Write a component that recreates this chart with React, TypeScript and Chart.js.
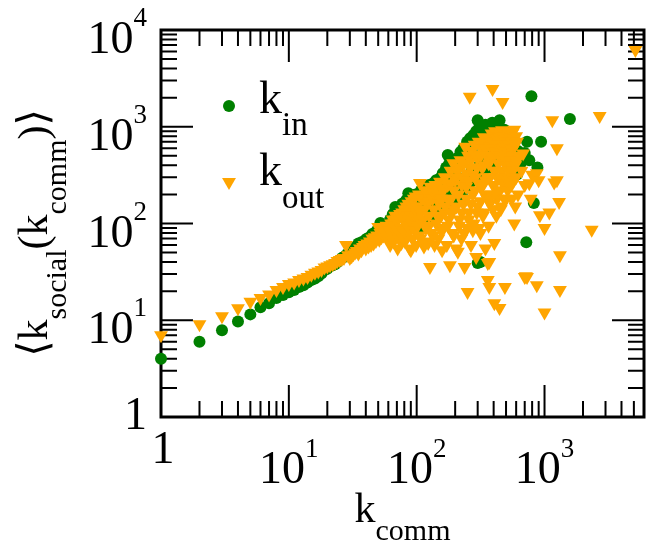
import React, { useEffect, useRef } from 'react';
import { Chart, registerables } from 'chart.js';

Chart.register(...registerables);

const X_MIN = 1;
const X_MAX = 6000;
const Y_MIN = 1;
const Y_MAX = 10000;

const xMajorTicks = [1, 10, 100, 1000];
const xTickLabels: [string, string][] = [['1', ''], ['10', '1'], ['10', '2'], ['10', '3']];
const yMajorTicks = [1, 10, 100, 1000, 10000];
const yTickLabels: [string, string][] = [['1', ''], ['10', '1'], ['10', '2'], ['10', '3'], ['10', '4']];

// k_in series: [k_comm, <k_social>]
const kInData: [number, number][] = [
  [1, 4.0], [2, 6.0], [3, 7.9], [4, 9.7], [5, 11.5], [6, 13.6], [7, 15.0], [8, 17.0], [9, 18.2], [10, 19.5],
  [11, 20.5], [12, 22], [13, 23], [14, 24.5], [15, 26], [16, 27], [17, 28.5], [18, 30.5], [19, 33], [20, 34],
  [21, 36], [22, 37], [23, 38], [24, 40], [25, 42], [26, 44], [27, 45], [28, 47], [29, 49], [30, 50],
  [31, 53], [32, 52], [33, 56], [34, 58], [35, 62], [36, 60], [37, 64], [38, 63], [39, 66], [40, 68],
  [41, 70], [42, 67], [43, 72], [44, 66], [45, 78], [46, 72], [47, 80], [48, 75], [49, 85], [50, 78],
  [52, 101], [53, 82], [55, 88], [56, 95], [58, 90], [60, 97], [62, 110], [64, 100], [65, 125], [67, 108],
  [68, 148], [70, 120], [72, 138], [75, 130], [77, 160], [80, 145], [81, 166], [83, 175], [85, 150], [86, 206],
  [88, 170], [90, 160], [92, 190], [95, 175], [98, 200], [100, 185], [104, 165], [108, 220], [112, 200], [116, 232],
  [120, 190], [125, 250], [130, 210], [135, 260], [142, 280], [146, 281], [150, 240], [155, 300], [160, 330], [165, 280],
  [170, 380], [175, 510], [180, 420], [186, 350], [191, 382], [196, 450], [200, 330], [205, 470], [212, 400], [220, 547],
  [226, 480], [232, 600], [240, 520], [248, 700], [255, 620], [262, 760], [270, 560], [278, 820], [285, 700], [292, 900],
  [300, 1170], [300, 880], [310, 1000], [318, 750], [325, 950], [335, 850], [345, 1050], [355, 900], [365, 780], [378, 990],
  [390, 1100], [400, 850], [410, 950], [420, 700], [430, 800], [445, 1170], [460, 900], [470, 750], [485, 930], [500, 850],
  [520, 700], [540, 780], [560, 650], [580, 600], [610, 320], [620, 560], [650, 420], [680, 480], [700, 535], [720, 64],
  [730, 700], [760, 450], [790, 2070], [825, 163], [880, 380], [940, 700], [1580, 1200], [300, 39], [315, 40],
  [65, 70], [75, 85], [90, 100], [100, 120], [110, 90], [120, 140], [130, 110], [140, 160], [150, 130], [160, 180],
  [170, 150], [185, 220], [195, 170], [210, 260], [225, 200], [240, 300], [255, 240], [270, 350], [290, 280], [310, 400],
  [330, 320], [350, 480], [370, 380], [390, 550], [410, 420], [430, 600], [450, 500], [470, 650], [490, 560], [520, 600],
  [550, 500],
];

// k_out series: [k_comm, <k_social>]
const kOutData: [number, number][] = [
  [1, 7.0], [2, 9.1], [3, 11.0], [4, 13.3], [5, 15.5], [6, 17.0], [7, 18.5], [8, 20.5], [9, 22.0], [10, 23.7],
  [11, 24.5], [12, 26], [13, 27], [14, 28], [15, 29.5], [16, 31], [17, 32], [18, 33], [19, 35], [20, 36],
  [21, 37], [22, 38], [23, 39], [24, 41], [25, 42], [26, 43], [27, 44], [28, 60], [29, 47], [30, 44],
  [31, 46], [32, 48], [33, 50], [34, 52], [35, 49], [36, 55], [37, 53], [38, 57], [39, 60], [40, 55],
  [41, 62], [42, 58], [43, 65], [44, 60], [45, 70], [46, 62], [47, 72], [48, 66], [49, 75], [50, 92],
  [51, 68], [52, 80], [53, 72], [54, 85], [55, 75], [56, 88], [57, 78], [58, 95], [59, 70], [60, 90],
  [61, 85], [62, 60], [63, 100], [63, 70], [64, 75], [65, 110], [66, 65], [66, 100], [67, 95], [68, 120],
  [69, 80], [69, 110], [70, 105], [71, 55], [72, 115], [72, 80], [73, 70], [74, 125], [75, 90], [75, 120],
  [76, 63], [77, 130], [78, 85], [78, 70], [79, 110], [80, 140], [81, 65], [81, 125], [82, 100], [83, 150],
  [84, 75], [84, 95], [85, 120], [86, 160], [87, 90], [87, 140], [88, 55], [89, 130], [90, 53], [90, 120],
  [91, 170], [92, 100], [93, 70], [93, 150], [94, 145], [95, 180], [96, 85], [96, 110], [97, 120], [98, 190],
  [99, 60], [99, 135], [100, 150], [102, 95], [104, 200], [105, 75], [105, 110], [106, 262], [107, 70], [108, 130],
  [110, 180], [112, 110], [114, 58], [115, 140], [115, 65], [116, 220], [118, 90], [120, 160], [122, 200], [123, 63],
  [125, 120], [125, 170], [125, 95], [127, 35.5], [128, 240], [130, 80], [133, 180], [135, 210], [135, 75], [136, 140],
  [138, 60], [140, 250], [142, 100], [145, 200], [145, 120], [148, 70], [150, 160], [152, 270], [155, 120], [155, 180],
  [155, 85], [158, 53], [160, 220], [163, 90], [165, 130], [165, 230], [166, 300], [168, 150], [172, 60], [175, 250],
  [175, 95], [175, 180], [178, 110], [182, 37], [184, 350], [185, 260], [185, 130], [186, 180], [190, 80], [193, 420],
  [195, 75], [195, 220], [196, 140], [200, 280], [204, 55], [205, 300], [205, 150], [208, 350], [210, 51], [212, 200],
  [215, 95], [215, 380], [216, 110], [220, 450], [224, 70], [225, 250], [225, 130], [228, 300], [232, 160], [235, 420],
  [235, 80], [237, 35.5], [240, 620], [244, 240], [245, 180], [245, 330], [248, 90], [250, 19.6], [252, 500], [255, 280],
  [255, 110], [256, 130], [260, 2040], [262, 380], [265, 450], [265, 160], [266, 60], [270, 560], [275, 200], [275, 85],
  [275, 320], [280, 100], [284, 650], [285, 220], [285, 520], [288, 300], [292, 45], [295, 130], [295, 380], [296, 480],
  [300, 150], [305, 700], [305, 90], [305, 260], [310, 250], [315, 80], [315, 500], [315, 170], [320, 600], [325, 380],
  [325, 240], [325, 680], [330, 120], [335, 780], [335, 130], [335, 400], [340, 200], [345, 55], [345, 600], [345, 280],
  [350, 500], [355, 300], [355, 180], [355, 720], [360, 26], [360, 39], [365, 750], [365, 95], [365, 420], [370, 40],
  [370, 22], [375, 160], [375, 300], [375, 620], [380, 450], [385, 850], [385, 200], [385, 500], [392, 2450], [395, 250],
  [395, 700], [395, 140], [400, 600], [405, 63], [405, 15], [405, 350], [405, 250], [410, 900], [415, 350], [415, 800],
  [415, 550], [420, 120], [425, 750], [425, 300], [425, 180], [430, 200], [435, 650], [435, 420], [440, 500], [445, 13.4],
  [445, 220], [445, 780], [450, 860], [455, 300], [455, 500], [455, 140], [460, 150], [465, 920], [465, 350], [465, 600],
  [470, 1800], [475, 650], [475, 260], [475, 800], [480, 250], [485, 480], [485, 180], [490, 22], [490, 800], [495, 400],
  [495, 650], [495, 300], [500, 180], [505, 900], [505, 400], [510, 700], [515, 220], [515, 550], [520, 300], [525, 650],
  [525, 350], [530, 850], [535, 250], [535, 780], [540, 450], [545, 400], [545, 600], [550, 250], [555, 180], [555, 700],
  [560, 860], [565, 350], [565, 500], [570, 600], [575, 750], [575, 280], [580, 100], [580, 930], [590, 400], [590, 650],
  [590, 150], [600, 300], [600, 450], [600, 800], [610, 700], [620, 200], [640, 500], [660, 350], [680, 530], [700, 28],
  [700, 250], [715, 28.5], [730, 28], [760, 260], [780, 180], [800, 320], [870, 23], [870, 330], [900, 280], [920, 122],
  [1000, 90], [1000, 12], [1090, 130], [1150, 1170], [1190, 265], [1250, 600], [1250, 280], [1300, 167], [1320, 47], [1320, 20.5],
  [2340, 86], [2700, 1290], [5140, 6200],
];

const GREEN = '#008000';
const ORANGE = '#FFA500';
const SERIF = '"Liberation Serif", "DejaVu Serif", "Times New Roman", Times, serif';

function drawTriangleDown(ctx: CanvasRenderingContext2D, x: number, y: number, r: number) {
  ctx.beginPath();
  ctx.moveTo(x, y + r);
  ctx.lineTo(x - r * Math.sin(Math.PI / 3), y - r / 2);
  ctx.lineTo(x + r * Math.sin(Math.PI / 3), y - r / 2);
  ctx.closePath();
  ctx.fill();
}

const framePlugin = {
  id: 'frame',
  beforeDatasetsDraw(chart: any) {
    const { ctx, chartArea: a, scales } = chart;
    const xs = scales.x;
    const ys = scales.y;
    ctx.save();
    ctx.strokeStyle = '#000';
    ctx.lineWidth = 2;
    ctx.beginPath();
    for (let d = 1; d <= X_MAX; d *= 10) {
      for (let m = 1; m <= 9; m++) {
        const v = m * d;
        if (v < X_MIN || v > X_MAX) continue;
        const px = xs.getPixelForValue(v);
        const len = m === 1 ? 32 : 16;
        ctx.moveTo(px, a.bottom);
        ctx.lineTo(px, a.bottom - len);
        ctx.moveTo(px, a.top);
        ctx.lineTo(px, a.top + len);
      }
    }
    for (let d = 1; d <= Y_MAX; d *= 10) {
      for (let m = 1; m <= 9; m++) {
        const v = m * d;
        if (v < Y_MIN || v > Y_MAX) continue;
        const py = ys.getPixelForValue(v);
        const len = m === 1 ? 32 : 16;
        ctx.moveTo(a.left, py);
        ctx.lineTo(a.left + len, py);
        ctx.moveTo(a.right, py);
        ctx.lineTo(a.right - len, py);
      }
    }
    ctx.stroke();
    ctx.lineWidth = 3;
    ctx.strokeRect(a.left, a.top, a.right - a.left, a.bottom - a.top);
    ctx.restore();
  },
  afterDraw(chart: any) {
    const { ctx, chartArea: a, scales } = chart;
    const xs = scales.x;
    const ys = scales.y;
    const mainFont = `46px ${SERIF}`;
    const supFont = `27px ${SERIF}`;
    ctx.save();
    ctx.fillStyle = '#000';
    ctx.textBaseline = 'alphabetic';
    ctx.textAlign = 'left';

    // x tick labels
    xMajorTicks.forEach((v, i) => {
      const [main, sup] = xTickLabels[i];
      const px = xs.getPixelForValue(v);
      ctx.font = mainFont;
      const wm = ctx.measureText(main).width;
      ctx.font = supFont;
      const ws = sup ? ctx.measureText(sup).width : 0;
      const start = px - (wm + ws) / 2 + (sup ? 0 : 2);
      ctx.font = mainFont;
      ctx.fillText(main, start, sup ? a.bottom + 66 : a.bottom + 46);
      if (sup) {
        ctx.font = supFont;
        ctx.fillText(sup, start + wm, a.bottom + 40);
      }
    });

    // y tick labels
    const yRight = a.left - 14;
    yMajorTicks.forEach((v, i) => {
      const [main, sup] = yTickLabels[i];
      const py = ys.getPixelForValue(v);
      ctx.font = supFont;
      const ws = sup ? ctx.measureText(sup).width : 0;
      ctx.font = mainFont;
      const wm = ctx.measureText(main).width;
      if (sup) {
        ctx.fillText(main, yRight - ws - wm, py + 23);
        ctx.font = supFont;
        ctx.fillText(sup, yRight - ws, py - 4);
      } else {
        ctx.fillText(main, yRight - wm, py + 12);
      }
    });

    // x title: k_comm
    const tMain = `42px ${SERIF}`;
    const tSub = `30px ${SERIF}`;
    ctx.font = tMain;
    const wk = ctx.measureText('k').width;
    ctx.font = tSub;
    const wc = ctx.measureText('comm').width;
    const cx = (a.left + a.right) / 2;
    const sx = cx - (wk + wc) / 2;
    ctx.font = tMain;
    ctx.fillText('k', sx, 522);
    ctx.font = tSub;
    ctx.fillText('comm', sx + wk, 540);

    // y title: <k_social(k_comm)>
    const parts: [string, boolean][] = [
      ['\u27E8k', false], ['social', true], ['(k', false], ['comm', true], [')\u27E9', false],
    ];
    let total = 0;
    const widths = parts.map(([t, s]) => {
      ctx.font = s ? tSub : tMain;
      const w = ctx.measureText(t).width;
      total += w;
      return w;
    });
    ctx.save();
    ctx.translate(47, 233);
    ctx.rotate(-Math.PI / 2);
    let pos = -total / 2;
    parts.forEach(([t, s], i) => {
      ctx.font = s ? tSub : tMain;
      ctx.fillText(t, pos, s ? 19 : 0);
      pos += widths[i];
    });
    ctx.restore();

    // legend
    const lMain = `46px ${SERIF}`;
    const lSub = `33px ${SERIF}`;
    ctx.fillStyle = GREEN;
    ctx.beginPath();
    ctx.arc(229, 106, 6, 0, Math.PI * 2);
    ctx.fill();
    ctx.fillStyle = ORANGE;
    drawTriangleDown(ctx, 229, 182, 8);
    ctx.fillStyle = '#000';
    ctx.font = lMain;
    const wl = ctx.measureText('k').width;
    ctx.fillText('k', 259, 113);
    ctx.fillText('k', 259, 185);
    ctx.font = lSub;
    ctx.fillText('in', 259 + wl, 135);
    ctx.fillText('out', 259 + wl, 208);
    ctx.restore();
  },
};

export default function App() {
  const canvasRef = useRef<HTMLCanvasElement | null>(null);

  useEffect(() => {
    const canvas = canvasRef.current;
    if (!canvas) return;
    const chart = new Chart(canvas, {
      type: 'scatter',
      data: {
        datasets: [
          {
            label: 'k_out',
            data: kOutData.map(([x, y]) => ({ x, y })),
            pointStyle: 'triangle',
            pointRotation: 180,
            pointRadius: 8,
            pointBackgroundColor: ORANGE,
            pointBorderWidth: 0,
            order: 0,
            clip: false,
          } as any,
          {
            label: 'k_in',
            data: kInData.map(([x, y]) => ({ x, y })),
            pointStyle: 'circle',
            pointRadius: 6,
            pointBackgroundColor: GREEN,
            pointBorderWidth: 0,
            order: 1,
            clip: false,
          } as any,
        ],
      },
      options: {
        animation: false,
        responsive: false,
        events: [],
        layout: { padding: { left: 161, right: 4, top: 30, bottom: 131 } },
        plugins: { legend: { display: false }, tooltip: { enabled: false }, title: { display: false } },
        scales: {
          x: { type: 'logarithmic', min: X_MIN, max: X_MAX, display: false },
          y: { type: 'logarithmic', min: Y_MIN, max: Y_MAX, display: false },
        },
      },
      plugins: [framePlugin],
    });
    let alive = true;
    if ((document as any).fonts && (document as any).fonts.load) {
      Promise.all([
        (document as any).fonts.load('46px "Liberation Serif"'),
        (document as any).fonts.load('46px "DejaVu Serif"'),
      ]).then(() => { if (alive) chart.draw(); }).catch(() => {});
    }
    return () => { alive = false; chart.destroy(); };
  }, []);

  return (
    <div style={{ position: 'fixed', left: 0, top: 0, width: 652, height: 548, overflow: 'hidden', background: '#fff' }}>
      <span style={{ fontFamily: '"Liberation Serif"', position: 'absolute', left: -1000, top: 0 }}>k10</span>
      <canvas ref={canvasRef} width={652} height={548} style={{ display: 'block', width: 652, height: 548 }} />
    </div>
  );
}
